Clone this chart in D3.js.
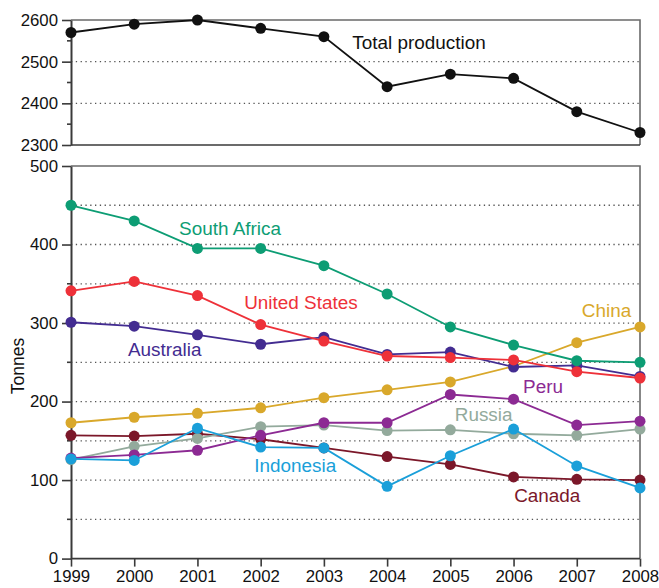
<!DOCTYPE html>
<html>
<head>
<meta charset="utf-8">
<script src="https://cdn.jsdelivr.net/npm/d3@7"></script>
<style>
  html, body { margin: 0; padding: 0; background: #fff; }
  svg { display: block; font-family: "Liberation Sans", Arial, Helvetica, sans-serif; }
</style>
</head>
<body>
<svg id="chart" width="659" height="588"></svg>
<script>
// Gold mine production, tonnes per year
const years = [1999, 2000, 2001, 2002, 2003, 2004, 2005, 2006, 2007, 2008];

const totalProduction = [2570, 2590, 2600, 2580, 2560, 2440, 2470, 2460, 2380, 2330];

const southAfrica  = [450, 430, 395, 395, 373, 337, 295, 272, 252, 250];
const unitedStates = [341, 353, 335, 298, 277, 258, 256, 253, 238, 230];
const australia    = [301, 296, 285, 273, 282, 260, 263, 244, 246, 232];
const china        = [173, 180, 185, 192, 205, 215, 225, 245, 275, 295];
const peru         = [128, 132, 138, 157, 173, 173, 209, 203, 170, 175];
const russia       = [126, 143, 153, 168, 170, 163, 164, 159, 157, 165];
const indonesia    = [127, 125, 166, 142, 141, 92, 131, 165, 118, 90];
const canada       = [157, 156, 159, 152, 141, 130, 120, 104, 101, 100];

const topTicks = [2300, 2400, 2500, 2600];
const topMinorTicks = [2350, 2450, 2550];
const topGrid = [2400, 2500];
const bottomTicks = [0, 100, 200, 300, 400, 500];
const bottomMinorTicks = [50, 150, 250, 350, 450];
const bottomGrid = [50, 100, 150, 200, 250, 300, 350, 400, 450];

// Series drawn in this order (later ones on top)
const series = [
  { name: "Canada",        values: canada,       color: "#7b1729", label: [2006.01, 72.5] },
  { name: "Russia",        values: russia,       color: "#93aa9c", label: [2005.07, 175.6] },
  { name: "Peru",          values: peru,         color: "#8c2a93", label: [2006.15, 210.5] },
  { name: "Indonesia",     values: indonesia,    color: "#1a9fd9", label: [2001.90, 110.7] },
  { name: "China",         values: china,        color: "#d9a82b", label: [2007.08, 307.7] },
  { name: "Australia",     values: australia,    color: "#432c91", label: [1999.90, 258.0] },
  { name: "United States", values: unitedStates, color: "#ee3139", label: [2001.74, 317.9] },
  { name: "South Africa",  values: southAfrica,  color: "#0d9d74", label: [2000.71, 412.1] }
];
const totalLabel = [2003.45, 2530.4];

const svg = d3.select("#chart");

const x = d3.scaleLinear().domain([1999, 2008]).range([71, 640]);
const yTop = d3.scaleLinear().domain([2300, 2600]).range([145, 20]);
const yBot = d3.scaleLinear().domain([0, 500]).range([558.6, 166]);

const axisColor = "#3a3a3a";
const frameColor = "#6a6a6a";
const tickFont = 16.8;
const labelFont = 18.9;

function panel(y, ticks, minorTicks, grid) {
  const g = svg.append("g");
  const [y0, y1] = y.range();
  // dotted grid
  g.selectAll("line.grid").data(grid).join("line")
    .attr("x1", x.range()[0]).attr("x2", x.range()[1])
    .attr("y1", d => y(d)).attr("y2", d => y(d))
    .attr("stroke", "#555").attr("stroke-width", 1.3)
    .attr("stroke-dasharray", "1.3,3.5");
  // frame: top and right
  g.append("path")
    .attr("d", `M${x.range()[0]},${y1}H${x.range()[1]}V${y0}`)
    .attr("fill", "none").attr("stroke", frameColor).attr("stroke-width", 1.6);
  // bottom line
  g.append("line")
    .attr("x1", x.range()[0]).attr("x2", x.range()[1])
    .attr("y1", y0).attr("y2", y0)
    .attr("stroke", axisColor).attr("stroke-width", 1.6);
  // left axis with major ticks
  const axis = d3.axisLeft(y).tickValues(ticks).tickFormat(d3.format("d"))
    .tickSize(9).tickPadding(4).tickSizeOuter(0);
  const ga = g.append("g").attr("transform", `translate(${x.range()[0]},0)`).call(axis);
  ga.select(".domain").attr("stroke", axisColor).attr("stroke-width", 2);
  ga.selectAll(".tick line").attr("stroke", axisColor).attr("stroke-width", 1.6);
  ga.selectAll(".tick text")
    .attr("fill", "#111").attr("font-size", tickFont)
    .attr("font-family", "'Liberation Sans', Arial, sans-serif");
  // minor ticks
  g.selectAll("line.minor").data(minorTicks).join("line")
    .attr("x1", x.range()[0] - 4).attr("x2", x.range()[0])
    .attr("y1", d => y(d)).attr("y2", d => y(d))
    .attr("stroke", axisColor).attr("stroke-width", 1.6);
  return g;
}

panel(yTop, topTicks, topMinorTicks, topGrid);
panel(yBot, bottomTicks, bottomMinorTicks, bottomGrid);

// x axis under bottom panel
const xAxis = d3.axisBottom(x).tickValues(years).tickFormat(d3.format("d"))
  .tickSize(8).tickPadding(3).tickSizeOuter(0);
const gx = svg.append("g").attr("transform", `translate(0,${yBot.range()[0]})`).call(xAxis);
gx.select(".domain").remove();
gx.selectAll(".tick line").attr("stroke", axisColor).attr("stroke-width", 1.6);
gx.selectAll(".tick text")
  .attr("fill", "#111").attr("font-size", tickFont)
  .attr("font-family", "'Liberation Sans', Arial, sans-serif");

// y axis title
svg.append("text")
  .attr("transform", `translate(24,${366}) rotate(-90)`)
  .attr("text-anchor", "middle")
  .attr("font-size", 17.5).attr("fill", "#111")
  .text("Tonnes");

// total production line
const lineTop = d3.line().x((d, i) => x(years[i])).y(d => yTop(d));
svg.append("path").datum(totalProduction)
  .attr("d", lineTop).attr("fill", "none")
  .attr("stroke", "#111").attr("stroke-width", 1.8);
svg.append("g").selectAll("circle").data(totalProduction).join("circle")
  .attr("cx", (d, i) => x(years[i])).attr("cy", d => yTop(d))
  .attr("r", 5.5).attr("fill", "#111");
svg.append("text")
  .attr("x", x(totalLabel[0])).attr("y", yTop(totalLabel[1]))
  .attr("font-size", labelFont).attr("fill", "#111")
  .text("Total production");

// country lines
const lineBot = d3.line().x((d, i) => x(years[i])).y(d => yBot(d));
const gs = svg.append("g").selectAll("g").data(series).join("g");
gs.append("path")
  .attr("d", d => lineBot(d.values)).attr("fill", "none")
  .attr("stroke", d => d.color).attr("stroke-width", 1.8);
gs.selectAll("circle").data(d => d.values.map(v => ({ v, c: d.color }))).join("circle")
  .attr("cx", (d, i) => x(years[i])).attr("cy", d => yBot(d.v))
  .attr("r", 5.5).attr("fill", d => d.c);
svg.append("g").selectAll("text").data(series).join("text")
  .attr("x", d => x(d.label[0])).attr("y", d => yBot(d.label[1]))
  .attr("font-size", labelFont).attr("fill", d => d.color)
  .text(d => d.name);
</script>
</body>
</html>
